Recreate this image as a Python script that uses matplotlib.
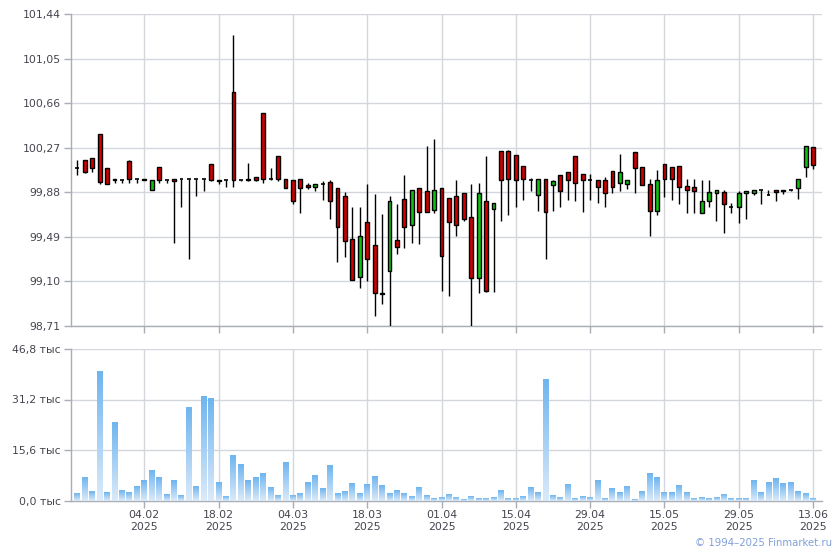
import numpy as np
import matplotlib
matplotlib.use("Agg")
import matplotlib.pyplot as plt
from matplotlib.colors import LinearSegmentedColormap

# ---- data (one entry per trading day) ----
opens = [100.09, 100.16, 100.18, 100.39, 100.09, 100.00, 99.99, 100.15, 100.00, 100.00,
         99.90, 100.10, 99.99, 100.00, 100.00, 100.00, 100.00, 100.00, 100.13, 99.99,
         99.99, 100.76, 99.99, 100.00, 100.01, 100.57, 100.00, 100.20, 100.00, 99.985,
         100.00, 99.94, 99.93, 99.95, 99.97, 99.915, 99.845, 99.47, 99.14, 99.62,
         99.42, 99.00, 99.19, 99.46, 99.82, 99.59, 99.915, 99.89, 99.725, 99.915,
         99.83, 99.85, 99.87, 99.66, 99.13, 99.80, 99.73, 100.245, 100.24, 100.21,
         100.11, 99.99, 99.86, 100.00, 99.94, 100.03, 100.055, 100.20, 100.04, 99.99,
         99.99, 99.985, 100.065, 99.96, 99.95, 100.23, 100.10, 99.95, 99.72, 100.13,
         100.10, 100.11, 99.935, 99.925, 99.70, 99.80, 99.875, 99.88, 99.755, 99.755,
         99.87, 99.87, 99.90, 99.855, 99.90, 99.90, 99.90, 99.915, 100.105, 100.275]
highs = [100.16, 100.16, 100.18, 100.39, 100.09, 100.00, 99.99, 100.16, 100.00, 100.00,
         99.99, 100.10, 99.99, 100.00, 100.00, 100.00, 100.00, 100.00, 100.13, 99.99,
         99.99, 101.26, 99.99, 100.14, 100.01, 100.57, 100.09, 100.20, 100.00, 99.985,
         100.00, 99.96, 99.95, 99.98, 99.985, 99.915, 99.88, 99.75, 99.75, 99.95,
         99.865, 99.69, 99.85, 99.775, 100.03, 99.90, 99.915, 100.285, 100.345, 99.915,
         99.83, 99.99, 99.87, 99.95, 99.96, 100.20, 99.785, 100.245, 100.25, 100.21,
         100.11, 100.005, 100.00, 100.00, 99.99, 100.03, 100.055, 100.20, 100.04, 100.04,
         99.99, 100.015, 100.065, 100.215, 99.99, 100.23, 100.10, 100.00, 100.075, 100.13,
         100.10, 100.11, 100.00, 100.00, 99.99, 99.985, 99.90, 99.90, 99.785, 99.89,
         99.89, 99.90, 99.90, 99.90, 99.90, 99.90, 99.90, 100.00, 100.285, 100.28]
lows = [100.03, 100.05, 100.06, 99.95, 99.95, 99.96, 99.96, 99.96, 99.96, 99.99,
        99.90, 99.96, 99.96, 99.44, 99.75, 99.30, 99.85, 99.89, 99.98, 99.95,
        99.93, 99.93, 99.98, 99.98, 99.98, 99.96, 99.99, 99.98, 99.92, 99.78,
        99.70, 99.91, 99.89, 99.81, 99.65, 99.27, 99.31, 99.11, 99.04, 99.10,
        98.80, 98.90, 98.71, 99.34, 99.39, 99.44, 99.43, 99.71, 99.70, 99.02,
        98.97, 99.50, 99.63, 98.71, 99.00, 99.01, 99.01, 99.63, 99.68, 99.75,
        99.815, 99.89, 99.72, 99.30, 99.72, 99.75, 99.81, 99.80, 99.71, 99.81,
        99.79, 99.75, 99.87, 99.89, 99.91, 99.87, 99.945, 99.50, 99.685, 99.84,
        99.81, 99.78, 99.70, 99.70, 99.70, 99.75, 99.63, 99.52, 99.70, 99.61,
        99.645, 99.86, 99.78, 99.855, 99.80, 99.865, 99.89, 99.82, 100.01, 100.085]
closes = [100.09, 100.06, 100.09, 99.97, 99.95, 99.99, 99.99, 100.00, 100.00, 99.99,
          99.99, 99.99, 99.99, 99.98, 100.00, 100.00, 100.00, 100.00, 99.99, 99.98,
          99.99, 99.99, 99.99, 99.99, 99.99, 100.00, 100.00, 100.00, 99.92, 99.80,
          99.92, 99.93, 99.95, 99.95, 99.80, 99.58, 99.45, 99.11, 99.495, 99.30,
          99.00, 98.99, 99.80, 99.40, 99.58, 99.90, 99.71, 99.71, 99.90, 99.325,
          99.62, 99.59, 99.65, 99.13, 99.87, 99.02, 99.785, 99.985, 100.00, 99.99,
          100.00, 99.99, 100.00, 99.71, 99.98, 99.89, 99.99, 99.96, 99.99, 99.99,
          99.93, 99.87, 99.93, 100.055, 99.99, 100.09, 99.945, 99.72, 99.99, 100.00,
          100.00, 99.93, 99.90, 99.89, 99.80, 99.88, 99.90, 99.78, 99.755, 99.875,
          99.89, 99.90, 99.90, 99.855, 99.885, 99.89, 99.90, 100.00, 100.285, 100.12]
volume_k = [2.46, 7.39, 3.08, 40.0, 2.77, 24.3, 3.39, 2.77, 4.62, 6.47,
            9.54, 7.39, 2.16, 6.47, 1.85, 28.9, 4.62, 32.3, 31.7, 5.85,
            1.54, 14.2, 11.4, 6.47, 7.39, 8.62, 4.31, 1.85, 12.0, 1.85,
            2.46, 5.85, 8.0, 4.0, 11.1, 2.46, 3.08, 5.54, 2.46, 5.23,
            7.7, 4.93, 2.46, 3.39, 2.46, 1.54, 4.31, 1.85, 0.62, 1.23,
            2.16, 1.23, 0.31, 1.54, 0.92, 0.62, 1.23, 3.39, 0.92, 0.62,
            1.54, 4.31, 2.77, 37.6, 1.85, 1.23, 5.23, 0.92, 1.54, 1.23,
            6.47, 0.92, 4.0, 2.77, 4.62, 0.31, 3.08, 8.62, 7.39, 2.77,
            2.77, 4.93, 2.77, 0.62, 1.23, 0.92, 1.23, 2.16, 0.62, 0.62,
            0.92, 6.47, 2.77, 5.85, 7.08, 5.54, 5.85, 3.08, 2.46, 0.62]
tick_labels = ["04.02\n2025", "18.02\n2025", "04.03\n2025", "18.03\n2025", "01.04\n2025",
               "15.04\n2025", "29.04\n2025", "15.05\n2025", "29.05\n2025", "13.06\n2025"]
tick_index = [9, 19, 29, 39, 49, 59, 69, 79, 89, 99]
price_ticks = [98.71, 99.10, 99.49, 99.88, 100.27, 100.66, 101.05, 101.44]
volume_ticks = [0.0, 15.6, 31.2, 46.8]

# ---- styling ----
plt.rcParams['font.family'] = ['DejaVu Sans']
TXT = '#454550'
GRID = '#d3d7dc'
SPINE = '#a9adb5'
RED = '#d00000'
GREEN = '#10c010'
FS = 7.8

fig = plt.figure(figsize=(8.4, 5.5), dpi=100)
ax = fig.add_axes([70.5 / 840, 1 - 326 / 550, (822 - 70.5) / 840, (326 - 14) / 550])
axv = fig.add_axes([70.5 / 840, 1 - 500.5 / 550, (822 - 70.5) / 840, (500.5 - 349) / 550])

x = np.arange(len(opens))
o = np.array(opens); h = np.array(highs); l = np.array(lows); c = np.array(closes)

# wicks
ax.vlines(x, l, h, color='black', linewidth=1.0, zorder=3)
# bodies
bw = 0.52
for i in range(len(x)):
    if abs(c[i] - o[i]) < 0.004:
        ax.hlines(o[i], x[i] - bw / 2, x[i] + bw / 2, color='black', linewidth=1.2, zorder=4)
    else:
        col = RED if c[i] < o[i] else GREEN
        ax.bar(x[i], abs(c[i] - o[i]), bottom=min(o[i], c[i]), width=bw,
               color=col, edgecolor='black', linewidth=1.0, zorder=4)

ax.set_xlim(-0.93, 100.2)
ax.set_ylim(price_ticks[0], price_ticks[-1])
ax.set_yticks(price_ticks)
ax.set_yticklabels([f"{v:.2f}".replace('.', ',') for v in price_ticks])
ax.set_xticks(tick_index)
ax.set_xticklabels([])

# volume with vertical gradient bars
cmap = LinearSegmentedColormap.from_list('vol', ['#dbeaf9', '#6fb5ef'])
grad = np.linspace(1, 0, 64).reshape(-1, 1)
for i, v in enumerate(volume_k):
    axv.imshow(grad, extent=[i - 0.4, i + 0.4, 0, v], aspect='auto', cmap=cmap,
               vmin=0, vmax=1, origin='upper', interpolation='bilinear', zorder=3)
axv.set_xlim(-0.93, 100.2)
axv.set_ylim(volume_ticks[0], volume_ticks[-1])
axv.set_yticks(volume_ticks)
axv.set_yticklabels([f"{v:.1f}".replace('.', ',') + " тыс" for v in volume_ticks])
axv.set_xticks(tick_index)
axv.set_xticklabels(tick_labels, linespacing=1.25)

for a in (ax, axv):
    a.grid(True, color=GRID, linewidth=1.0, zorder=0)
    a.set_axisbelow(True)
    for s in ('top', 'right'):
        a.spines[s].set_visible(False)
    for s in ('left', 'bottom'):
        a.spines[s].set_color(SPINE)
        a.spines[s].set_linewidth(1.0)
    a.tick_params(axis='both', colors=SPINE, labelcolor=TXT, labelsize=FS,
                  length=5, width=1.0, pad=2)

fig.text(832 / 840, 1 - 543 / 550, "© 1994–2025 Finmarket.ru", ha='right', va='center',
         fontsize=7.3, color='#7f9edb')

fig.savefig("out.png", dpi=100)
